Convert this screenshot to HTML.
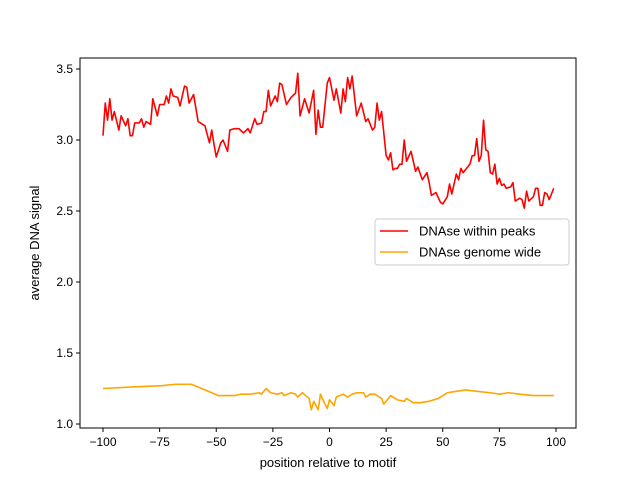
<!DOCTYPE html>
<html><head><meta charset="utf-8"><style>
body{margin:0;background:#fff}
svg{font-family:"Liberation Sans","DejaVu Sans",sans-serif}
</style></head><body>
<svg id="c" width="640" height="480" viewBox="0 0 640 480"></svg>
<script>
const redPos=[-100,-99,-98,-97,-96,-95,-93,-92,-90,-89,-88,-87,-86,-84,-83,-82,-81,-79,-78,-76,-75,-73,-72,-71,-70,-69,-67,-66,-64,-63,-62,-60,-58,-55,-53,-52,-51,-50,-48,-47,-45,-44,-42,-40,-38,-36,-35,-33,-32,-30,-29,-28,-27,-26,-24,-23,-22,-21,-19,-17,-15,-14,-13,-11,-9,-7,-6,-5,-4,-3,-1,0,2,3,5,6,7,8,9,10,12,14,16,17,19,20,21,22,23,25,26,27,28,29,30,31,32,33,34,36,38,39,41,43,44,45,47,49,50,52,53,54,56,57,58,59,62,63,64,65,66,67,68,69,70,71,72,73,74,75,76,77,78,80,81,82,84,85,86,87,88,90,91,92,93,94,95,96,97,99];
const redVal=[3.03,3.26,3.14,3.29,3.14,3.20,3.07,3.17,3.10,3.15,3.03,3.03,3.12,3.12,3.15,3.09,3.13,3.11,3.29,3.17,3.25,3.25,3.31,3.26,3.36,3.31,3.30,3.24,3.38,3.37,3.26,3.32,3.13,3.10,2.98,3.07,2.97,2.88,2.98,3.00,2.92,3.07,3.08,3.08,3.05,3.08,3.05,3.15,3.11,3.12,3.20,3.20,3.35,3.24,3.31,3.27,3.40,3.39,3.25,3.30,3.33,3.47,3.17,3.29,3.19,3.35,3.04,3.21,3.09,3.09,3.40,3.44,3.28,3.36,3.19,3.36,3.27,3.44,3.36,3.45,3.17,3.26,3.13,3.15,3.07,3.09,3.26,3.14,3.20,2.89,2.86,2.91,2.79,2.80,2.80,2.83,2.83,3.00,2.85,2.92,2.78,2.81,2.72,2.77,2.70,2.61,2.63,2.56,2.55,2.60,2.69,2.62,2.76,2.72,2.80,2.77,2.83,2.89,2.89,3.01,2.85,2.89,3.14,2.93,2.92,2.77,2.76,2.83,2.69,2.73,2.68,2.69,2.66,2.67,2.70,2.57,2.59,2.58,2.52,2.64,2.57,2.60,2.66,2.66,2.54,2.54,2.63,2.62,2.58,2.66];
const orgPos=[-100,-88,-74,-68,-61,-55,-49,-42,-39,-35,-31,-30,-28,-26,-23,-21,-20,-17,-15,-14,-12,-9,-8,-7,-5,-4,-2,-1,0,2,3,6,8,10,12,15,16,18,20,23,24,25,27,30,33,34,37,40,44,48,52,56,60,65,71,75,79,84,90,96,99];
const orgVal=[1.25,1.26,1.27,1.28,1.28,1.24,1.20,1.20,1.21,1.21,1.22,1.21,1.25,1.22,1.21,1.22,1.20,1.22,1.21,1.19,1.22,1.18,1.10,1.16,1.10,1.21,1.14,1.11,1.17,1.13,1.19,1.21,1.19,1.21,1.22,1.22,1.19,1.21,1.21,1.18,1.14,1.16,1.20,1.17,1.16,1.18,1.15,1.15,1.16,1.18,1.22,1.23,1.24,1.23,1.22,1.21,1.22,1.21,1.20,1.20,1.20];
const xTicks=[-100,-75,-50,-25,0,25,50,75,100];
const yTicks=[1.0,1.5,2.0,2.5,3.0,3.5];
const NS="http://www.w3.org/2000/svg";
const svg=document.getElementById('c');
const X=v=>103+(v+100)*(556-103)/200;
const Y=v=>424-(v-1.0)*(424-69)/2.5;
function mk(t,a){const e=document.createElementNS(NS,t);for(const k in a)e.setAttribute(k,a[k]);svg.appendChild(e);return e;}
const frame=mk('rect',{x:80,y:58,width:496,height:370,fill:'none',stroke:'#000','stroke-width':1});


xTicks.forEach(t=>{
  const l=mk('line',{x1:X(t),x2:X(t),y1:428,y2:432,stroke:'#000'});
  
  
  const tx=mk('text',{x:X(t),y:446,'font-size':12,'text-anchor':'middle'});tx.textContent=String(t).replace('-','\u2212');
  
  
});
yTicks.forEach(t=>{
  const l=mk('line',{x1:76,x2:80,y1:Y(t),y2:Y(t),stroke:'#000'});
  
  
  const tx=mk('text',{x:73,y:Y(t)+4,'font-size':12,'text-anchor':'end'});tx.textContent=t.toFixed(1);
  
  
});
function line(pos,val,col,name){
  const p=mk('polyline',{points:pos.map((x,i)=>X(x)+','+Y(val[i])).join(' '),fill:'none',stroke:col,'stroke-width':1.6,'stroke-linejoin':'round'});
  
  
}
line(redPos,redVal,'#ff0000','series-dnase-within-peaks');
line(orgPos,orgVal,'#ffa500','series-dnase-genome-wide');
const xt=mk('text',{x:328,y:467,'font-size':13,'text-anchor':'middle'});xt.textContent='position relative to motif';


const yt=mk('text',{x:0,y:0,'font-size':13,'text-anchor':'middle',transform:'translate(39,243) rotate(-90)'});yt.textContent='average DNA signal';


const lg=mk('rect',{x:375,y:219,width:194,height:46,rx:3,fill:'#fff',stroke:'#ccc'});


[['#ff0000','DNAse within peaks',231],['#ffa500','DNAse genome wide',252]].forEach(([c,t,y],i)=>{
  const l=mk('line',{x1:380,x2:408,y1:y,y2:y,stroke:c,'stroke-width':1.6});
  
  
  const tx=mk('text',{x:419,y:y+4.5,'font-size':13});tx.textContent=t;
  
  
});
</script>
</body></html>
